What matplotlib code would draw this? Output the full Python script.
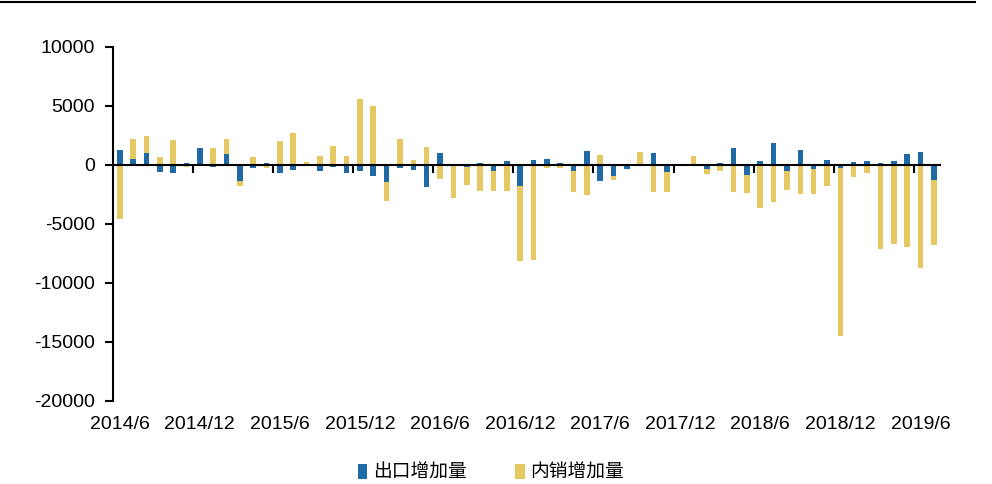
import matplotlib
matplotlib.use("Agg")
import matplotlib.pyplot as plt
import numpy as np
from matplotlib.lines import Line2D
from matplotlib.patches import Patch

plt.rcParams['font.family'] = ['Liberation Sans', 'DejaVu Sans']
plt.rcParams['axes.unicode_minus'] = False

# categories: monthly 2014/6 .. 2019/7
months = [f"{y}/{m}" for y in range(2014, 2020) for m in range(1, 13)]
categories = months[months.index("2014/6"):months.index("2019/7") + 1]

export_inc = [1250, 500, 990, -600, -650, 170, 1440, -200, 930,
              -1330, -230, 170, -700, -450, -100, -540, -140, -680,
              -510, -930, -1410, -250, -420, -1840, 1020, -30, -170,
              140, -510, 370, -1750, 400, 540, 140, -480, 1160,
              -1360, -900, -370, 0, 990, -620, -110, 0, -310,
              170, 1410, -850, 340, 1890, -510, 1240, -310, 450,
              -230, 230, 310, 200, 310, 900, 1100, -1270]
domestic_inc = [-4550, 1670, 1500, 700, 2150, -150, 0, 1470, 1270,
                -480, 680, -230, 2030, 2710, 250, 790, 1640, 760,
                5620, 5000, -1610, 2230, 400, 1500, -1160, -2740, -1500,
                -2180, -1720, -2180, -6410, -8050, -280, -280, -1780, -2540,
                850, -340, 110, 1130, -2290, -1640, 0, 790, -420,
                -480, -2290, -1520, -3620, -3110, -1640, -2430, -2120, -1750,
                -14260, -1020, -680, -7120, -6720, -6920, -8760, -5480]
series_names = ["出口增加量", "内销增加量"]
colors = ["#1F6AA5", "#E5C862"]

fig = plt.figure(figsize=(9.92, 4.84), dpi=100)
ax = fig.add_axes([0.114, 0.1715, 0.834, 0.7315])

x = np.arange(len(categories))
pos_base = np.zeros(len(x))
neg_base = np.zeros(len(x))
for vals, col in zip([export_inc, domestic_inc], colors):
    v = np.array(vals, dtype=float)
    bottom = np.where(v >= 0, pos_base, neg_base)
    ax.bar(x, v, bottom=bottom, width=0.42, color=col, linewidth=0, zorder=2)
    pos_base += np.where(v >= 0, v, 0)
    neg_base += np.where(v < 0, v, 0)

ymin, ymax = -20000, 10000
ax.set_ylim(ymin, ymax)
ax.set_xlim(-0.5, len(x) - 0.5)
ax.set_yticks(np.arange(ymin, ymax + 1, 5000))
ax.tick_params(axis='y', direction='out', length=6, width=1.5, labelsize=14, pad=7)

for s in ['top', 'right', 'bottom']:
    ax.spines[s].set_visible(False)
ax.spines['left'].set_linewidth(1.5)

# category labels every 6 months at the bottom
lab_idx = x[::6]
ax.set_xticks(lab_idx)
ax.set_xticklabels([categories[i] for i in lab_idx])
ax.tick_params(axis='x', length=0, labelsize=14, pad=11)

# axis line at zero with tick marks between groups of 6
zero_pos = (0 - ymin) / (ymax - ymin)
sec = ax.secondary_xaxis(zero_pos)
sec.set_xticks(np.arange(5.5, len(x) - 0.5, 6))
sec.set_xticklabels([])
sec.tick_params(direction='in', length=6, width=1.5)
for s in sec.spines.values():
    s.set_linewidth(1.5)
sec.set_zorder(3)

# top border line
fig.add_artist(Line2D([0, 0.983], [0.996, 0.996], color='black', lw=1.5,
                      transform=fig.transFigure))

handles = [Patch(facecolor=c, edgecolor='none') for c in colors]
fig.legend(handles, series_names, loc='center', bbox_to_anchor=(0.495, 0.024),
           ncol=2, frameon=False, handlelength=0.5, handleheight=0.9,
           handletextpad=0.3, columnspacing=2.6,
           prop={'family': ['Noto Sans CJK SC', 'DejaVu Sans'], 'size': 13.5})

fig.savefig("out.png", dpi=100)
